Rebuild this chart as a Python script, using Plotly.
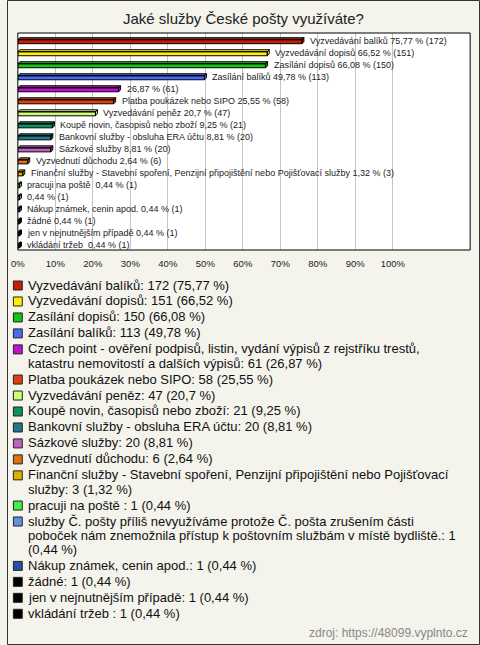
import unicodedata
import plotly.graph_objects as go

# ---------------- data ----------------
title_text = "Jaké služby České pošty využíváte?"
source_text = "zdroj: https://48099.vyplnto.cz"

categories = [
    "Vyzvedávání balíků",
    "Vyzvedávání dopisů",
    "Zasílání dopisů",
    "Zasílání balíků",
    "Czech point - ověření podpisů, listin, vydání výpisů z rejstříku trestů, katastru nemovitostí a dalších výpisů",
    "Platba poukázek nebo SIPO",
    "Vyzvedávání peněz",
    "Koupě novin, časopisů nebo zboží",
    "Bankovní služby - obsluha ERA účtu",
    "Sázkové služby",
    "Vyzvednutí důchodu",
    "Finanční služby - Stavební spoření, Penzijní připojištění nebo Pojišťovací služby",
    "pracuji na poště ",
    "služby Č. pošty příliš nevyužíváme protože Č. pošta zrušením části poboček nám znemožnila přístup k poštovním službám v místě bydliště.",
    "Nákup známek, cenin apod.",
    "žádné",
    "jen v nejnutnějším případě",
    "vkládání tržeb ",
]
bar_names = [
    "Vyzvedávání balíků",
    "Vyzvedávání dopisů",
    "Zasílání dopisů",
    "Zasílání balíků",
    "",
    "Platba poukázek nebo SIPO",
    "Vyzvedávání peněz",
    "Koupě novin, časopisů nebo zboží",
    "Bankovní služby - obsluha ERA účtu",
    "Sázkové služby",
    "Vyzvednutí důchodu",
    "Finanční služby - Stavební spoření, Penzijní připojištění nebo Pojišťovací služby",
    "pracuji na poště ",
    "",
    "Nákup známek, cenin apod.",
    "žádné",
    "jen v nejnutnějším případě",
    "vkládání tržeb ",
]
counts = [172, 151, 150, 113, 61, 58, 47, 21, 20, 20, 6, 3, 1, 1, 1, 1, 1, 1]
percents = [75.77, 66.52, 66.08, 49.78, 26.87, 25.55, 20.7, 9.25, 8.81, 8.81,
            2.64, 1.32, 0.44, 0.44, 0.44, 0.44, 0.44, 0.44]
colors = ["#c41e0a", "#ffee00", "#14c414", "#4a6cf0", "#c010d0", "#e04010",
          "#ccff77", "#109060", "#207888", "#c060c0", "#e07010", "#e0b000",
          "#44ee44", "#6090e0", "#2050b0", "#000000", "#000000", "#000000"]
tick_values = [0, 10, 20, 30, 40, 50, 60, 70, 80, 90, 100]
tick_labels = ["0%", "10%", "20%", "30%", "40%", "50%", "60%", "70%", "80%", "90%", "100%"]

# ---------------- layout helpers ----------------
W, H = 480, 645
FONT = "Arial, 'Liberation Sans', sans-serif"


def px(x):
    return x / W


def py(y):
    return 1 - y / H


def fmt(p):
    return ("%g" % p).replace(".", ",")


# Helvetica/Arial advance widths (per 1000 em) to wrap legend lines
_w = {" ": 278, "!": 278, "%": 889, "(": 333, ")": 333, ",": 278, "-": 333,
      ".": 278, "/": 278, ":": 278, "?": 556,
      "A": 667, "B": 667, "C": 722, "D": 722, "E": 667, "F": 611, "G": 778,
      "H": 722, "I": 278, "J": 500, "K": 667, "L": 556, "M": 833, "N": 722,
      "O": 778, "P": 667, "Q": 778, "R": 722, "S": 667, "T": 611, "U": 722,
      "V": 667, "W": 944, "X": 667, "Y": 667, "Z": 611,
      "a": 556, "b": 556, "c": 500, "d": 556, "e": 556, "f": 278, "g": 556,
      "h": 556, "i": 222, "j": 222, "k": 500, "l": 222, "m": 833, "n": 556,
      "o": 556, "p": 556, "q": 556, "r": 333, "s": 500, "t": 278, "u": 556,
      "v": 500, "w": 722, "x": 500, "y": 500, "z": 500}


def text_width(s, size):
    tot = 0
    for ch in s:
        base = unicodedata.normalize("NFD", ch)[0]
        tot += _w.get(base, 556)
    return tot * size / 1000.0


def wrap(s, size, limit):
    words = s.split(" ")
    lines, cur = [], ""
    for wd in words:
        cand = wd if cur == "" else cur + " " + wd
        if cur != "" and text_width(cand, size) > limit:
            lines.append(cur)
            cur = wd
        else:
            cur = cand
    lines.append(cur)
    return lines


# plot area in pixels
PL, PR, PT, PB = 11, 470, 33, 250
x_max = (PR - PL) / 3.805
n = len(categories)
y_top = -(40.7 - PT) / 12.02
y_bot = (n - 1) + (PB - 245.0) / 12.02

# 3D bar geometry (axis units)
dx = 2 / 3.805
h_top = 0.25
h_mid = 0.083
h_bot = 0.25

fig = go.Figure()
annotations = []
shapes = []

for i, (v, c) in enumerate(zip(percents, colors)):
    xs = [0, v, v, 0, 0, None,
          0, dx, v + dx, v, 0, None,
          v, v + dx, v + dx, v, v]
    ys = [i - h_mid, i - h_mid, i + h_bot, i + h_bot, i - h_mid, None,
          i - h_mid, i - h_top, i - h_top, i - h_mid, i - h_mid, None,
          i - h_mid, i - h_top, i + h_mid, i + h_bot, i - h_mid]
    fig.add_trace(go.Scatter(x=xs, y=ys, mode="lines", fill="toself",
                             fillcolor=c, line=dict(color="#000000", width=1),
                             hoverinfo="skip", showlegend=False))
    name = bar_names[i]
    label = (name + " " if name else "") + fmt(v) + " % (" + str(counts[i]) + ")"
    annotations.append(dict(x=v + dx, y=i, xref="x", yref="y", text=label,
                            showarrow=False, xanchor="left", yanchor="middle",
                            xshift=4, font=dict(family=FONT, size=9, color="#222222")))

# title
annotations.append(dict(x=0.5, y=py(18), xref="paper", yref="paper", text=title_text,
                        showarrow=False, xanchor="center", yanchor="middle",
                        font=dict(family=FONT, size=15, color="#222222")))

# legend (custom, wrapped)
LEG_FONT = 13
line_h = 14.2
gap = 1.77
y_cur = 285.0
for i, cat in enumerate(categories):
    text = cat + ": " + str(counts[i]) + " (" + fmt(percents[i]) + " %)"
    lines = wrap(text, LEG_FONT, 430)
    shapes.append(dict(type="rect", xref="paper", yref="paper",
                       x0=px(6.5), x1=px(15.5), y0=py(y_cur + 5), y1=py(y_cur - 4),
                       fillcolor=colors[i], line=dict(color="#222222", width=1)))
    for k, ln in enumerate(lines):
        annotations.append(dict(x=px(19), y=py(y_cur + k * line_h), xref="paper", yref="paper",
                                text=ln, showarrow=False, xanchor="left", yanchor="middle",
                                font=dict(family=FONT, size=LEG_FONT, color="#111111")))
    y_cur += len(lines) * line_h + gap

# source
annotations.append(dict(x=px(470), y=py(633), xref="paper", yref="paper", text=source_text,
                        showarrow=False, xanchor="right", yanchor="middle",
                        font=dict(family=FONT, size=12, color="#888888")))

# plot frame and outer border
shapes.append(dict(type="rect", xref="paper", yref="paper",
                   x0=px(PL), x1=px(PR), y0=py(PB), y1=py(PT),
                   line=dict(color="#000000", width=1), fillcolor="rgba(0,0,0,0)", layer="above"))
shapes.append(dict(type="rect", xref="paper", yref="paper",
                   x0=px(0.5), x1=px(W - 0.5), y0=py(H - 0.5), y1=py(0.5),
                   line=dict(color="#333333", width=1), fillcolor="rgba(0,0,0,0)"))

fig.update_layout(
    width=W, height=H, autosize=False,
    margin=dict(l=0, r=0, t=0, b=0, pad=0),
    paper_bgcolor="#f4f3ec", plot_bgcolor="#ffffff",
    showlegend=False,
    annotations=annotations, shapes=shapes,
    xaxis=dict(domain=[px(PL), px(PR)], range=[0, x_max], autorange=False,
               tickmode="array", tickvals=tick_values, ticktext=tick_labels,
               showgrid=True, gridcolor="#c4c4c4", gridwidth=1, zeroline=False,
               showline=False, ticks="", ticklabelstandoff=6,
               tickfont=dict(family=FONT, size=9.5, color="#222222"), fixedrange=True),
    yaxis=dict(domain=[py(PB), py(PT)], range=[y_bot, y_top], autorange=False,
               showgrid=False, zeroline=False, showticklabels=False, ticks="",
               showline=False, fixedrange=True),
)

fig.write_html("out.html", config={"displayModeBar": False},
               post_script="document.body.style.margin='0';document.body.style.padding='0';")
